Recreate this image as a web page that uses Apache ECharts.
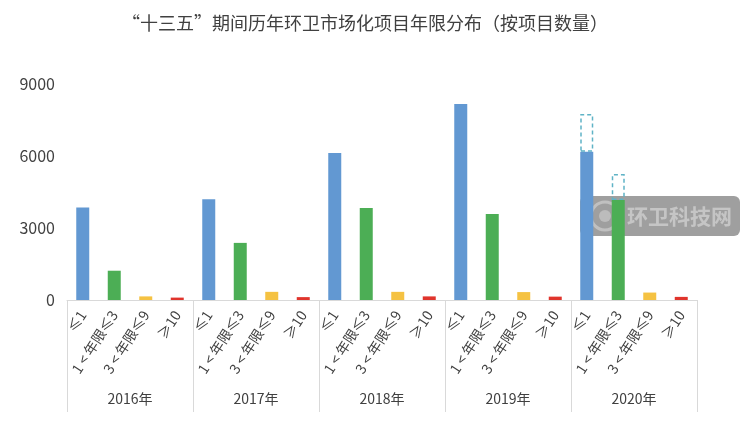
<!DOCTYPE html>
<html>
<head>
<meta charset="utf-8">
<script src="https://cdn.jsdelivr.net/npm/echarts@6/dist/echarts.min.js"></script>
<style>html,body{margin:0;padding:0;background:#fff;}#c{width:750px;height:433px;}</style>
</head>
<body>
<div id="c"></div>
<script>
var years = ['2016年', '2017年', '2018年', '2019年', '2020年'];
var bands = ['≤1', '1 < 年限≤3', '3 < 年限≤9', '≥10'];
var le1 = [3850, 4200, 6130, 8170, 6180];
var y1to3 = [1220, 2380, 3830, 3580, 4170];
var y3to9 = [150, 340, 340, 330, 310];
var ge10 = [100, 120, 150, 140, 130];
// dashed outline tops (2020 only)
var dashTopLe1 = [null, null, null, null, 7750];
var dashTopY1to3 = [null, null, null, null, 5250];
var yTicks = [0, 3000, 6000, 9000];

var colors = ['#6298d2', '#4cae55', '#f5c242', '#e0342c'];
var seriesVals = [le1, y1to3, y3to9, ge10];
var dashTops = [dashTopLe1, dashTopY1to3, null, null];

var cats = [], main = [], dash = [];
for (var i = 0; i < years.length; i++) {
  for (var j = 0; j < bands.length; j++) {
    cats.push(bands[j]);
    main.push({ value: seriesVals[j][i], itemStyle: { color: colors[j] } });
    var dt = dashTops[j] ? dashTops[j][i] : null;
    dash.push(dt == null ? null : dt - seriesVals[j][i]);
  }
}

var chart = echarts.init(document.getElementById('c'));
chart.setOption({
  animation: false,
  title: {
    text: '“十三五”期间历年环卫市场化项目年限分布（按项目数量）',
    left: 360, top: 9, textAlign: 'center',
    textStyle: { fontFamily: 'Noto Sans CJK SC', fontSize: 18, fontWeight: 'normal', color: '#404040' }
  },
  grid: { left: 67, right: 53, top: 84, bottom: 133 },
  xAxis: [{
    type: 'category', data: cats,
    axisLine: { lineStyle: { color: '#d9d9d9' } },
    axisTick: { show: false },
    axisLabel: { interval: 0, rotate: 57, margin: 12, fontFamily: 'Noto Sans CJK SC', fontSize: 14, color: '#404040' }
  }, {
    type: 'category', data: years, position: 'bottom',
    axisLine: { show: false },
    axisTick: { show: true, length: 112, interval: 0, lineStyle: { color: '#d9d9d9' } },
    axisLabel: { interval: 0, margin: 92, fontFamily: 'Noto Sans CJK SC', fontSize: 14, color: '#404040' }
  }],
  yAxis: {
    type: 'value', min: 0, max: 9000, interval: 3000,
    axisLine: { show: false }, axisTick: { show: false }, splitLine: { show: false },
    axisLabel: { margin: 12, fontFamily: 'Noto Sans CJK SC', fontSize: 16, color: '#404040',
      formatter: function (v) { return String(v); } }
  },
  series: [{
    type: 'bar', xAxisIndex: 0, data: main, barWidth: 13, stack: 's'
  }, {
    type: 'bar', xAxisIndex: 0, data: dash, barWidth: 13, stack: 's',
    itemStyle: { color: 'rgba(255,255,255,0)', borderColor: '#5fb3c6', borderWidth: 1.5, borderType: [4, 3] }
  }],
  graphic: [{
    type: 'group', left: 580, top: 196,
    children: [{
      type: 'rect', shape: { x: 0, y: 0, width: 160, height: 40, r: 6 },
      style: { fill: 'rgba(90,90,90,0.58)' }
    }, {
      type: 'circle', shape: { cx: 25, cy: 20, r: 14 },
      style: { fill: 'none', stroke: 'rgba(255,255,255,0.35)', lineWidth: 3 }
    }, {
      type: 'circle', shape: { cx: 25, cy: 20, r: 6 },
      style: { fill: 'rgba(255,255,255,0.3)' }
    }, {
      type: 'text', x: 47, y: 20,
      style: { text: '环卫科技网', fill: 'rgba(255,255,255,0.4)', font: 'bold 21px "Noto Sans CJK SC"', textVerticalAlign: 'middle' }
    }]
  }]
});
</script>
</body>
</html>
